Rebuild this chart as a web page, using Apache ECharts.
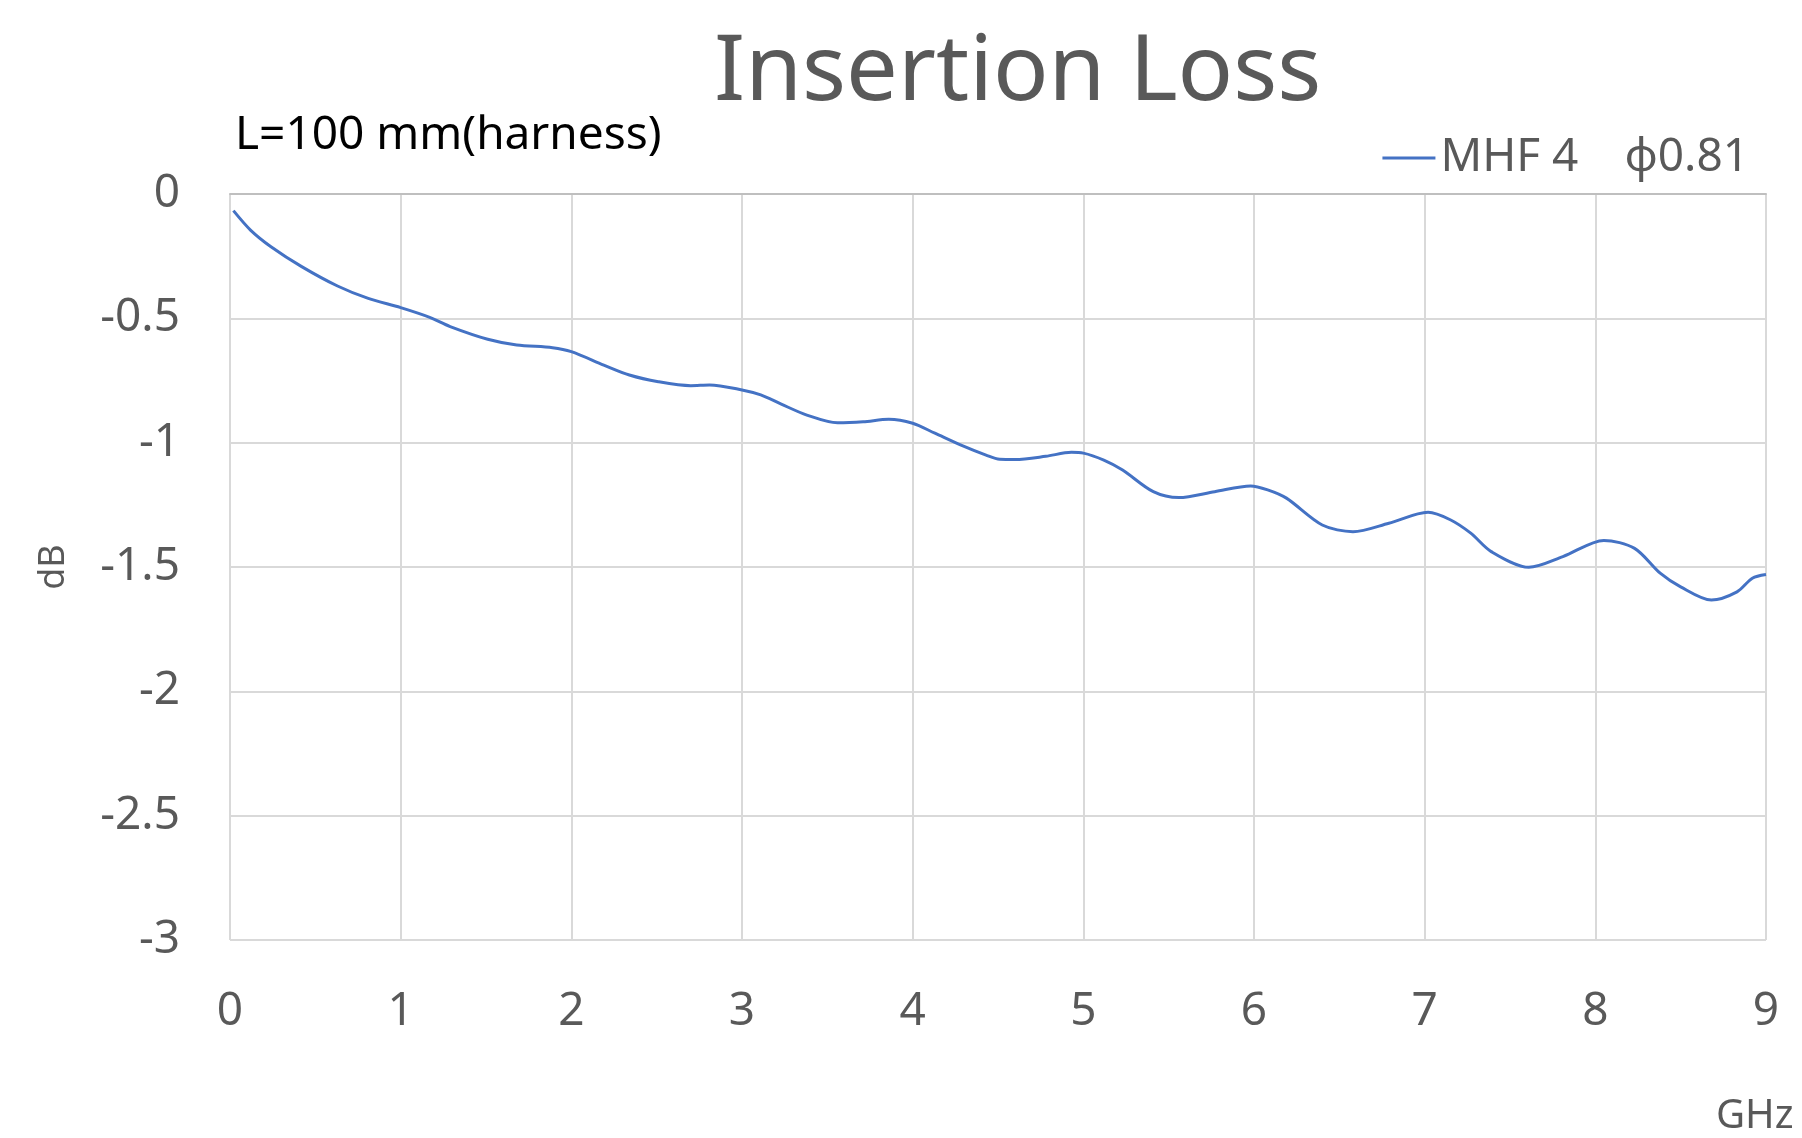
<!DOCTYPE html>
<html>
<head>
    <meta charset="utf-8">
    <title>Insertion Loss</title>
    <script src="https://cdn.jsdelivr.net/npm/echarts@6/dist/echarts.min.js"></script>
    <style>
        html, body { margin: 0; padding: 0; background: #fff; }
    </style>
</head>
<body>
    <div id="main" style="width: 1802px;height:1138px;"></div>
    <script type="text/javascript">
    var myChart = echarts.init(document.getElementById('main'));
    // Data
    var freq = [0.02,0.12,0.24,0.42,0.63,0.81,1.0,1.17,1.29,1.51,1.68,1.89,2.0,2.19,2.34,2.51,2.7,2.81,
                3.0,3.11,3.23,3.38,3.56,3.71,3.86,4.0,4.13,4.28,4.43,4.51,4.6,4.78,4.93,5.0,5.12,5.23,
                5.41,5.56,5.77,5.98,6.08,6.19,6.4,6.58,6.79,7.02,7.15,7.27,7.39,7.61,7.81,8.05,8.23,
                8.38,8.5,8.68,8.83,8.92,9.0];
    var loss = [-0.067,-0.145,-0.212,-0.292,-0.37,-0.42,-0.457,-0.496,-0.533,-0.584,-0.607,-0.618,-0.634,
                -0.688,-0.728,-0.755,-0.771,-0.768,-0.788,-0.808,-0.845,-0.889,-0.92,-0.916,-0.906,-0.922,
                -0.962,-1.009,-1.05,-1.067,-1.068,-1.055,-1.039,-1.042,-1.07,-1.11,-1.197,-1.221,-1.197,
                -1.174,-1.19,-1.223,-1.331,-1.358,-1.324,-1.28,-1.31,-1.364,-1.438,-1.501,-1.458,-1.393,
                -1.425,-1.525,-1.58,-1.633,-1.60,-1.545,-1.53];
    var seriesName = 'MHF 4\u3000φ0.81';

    var points = freq.map(function (f, i) { return [f, loss[i]]; });

    var grey = '#595959';
    var font = 'Noto Sans';

    var option = {
      backgroundColor: '#fff',
      animation: false,
      title: [{
        text: 'Insertion Loss',
        left: 709,
        top: 23,
        textStyle: { color: grey, fontSize: 92, fontWeight: 'normal', fontFamily: font }
      }, {
        text: 'L=100 mm(harness)',
        left: 230,
        top: 108,
        textStyle: { color: '#000', fontSize: 46, fontWeight: 'normal', fontFamily: font }
      }, {
        text: 'GHz',
        left: 1711,
        top: 1092,
        textStyle: { color: grey, fontSize: 40, fontWeight: 'normal', fontFamily: font }
      }],
      legend: {
        right: 48,
        top: 130,
        icon: 'rect',
        itemWidth: 53,
        itemHeight: 3,
        itemGap: 5,
        data: [seriesName],
        textStyle: { color: grey, fontSize: 46, fontFamily: font }
      },
      grid: {
        left: 230,
        right: 36,
        top: 194,
        bottom: 198
      },
      xAxis: [{
        type: 'value',
        min: 0,
        max: 9,
        interval: 1,
        axisLine: { show: false },
        axisTick: { show: false },
        axisLabel: { color: grey, fontSize: 46, fontFamily: font, margin: 49 },
        splitLine: { show: true, lineStyle: { color: '#d9d9d9', width: 2 } }
      }, {
        type: 'value',
        position: 'top',
        min: 0,
        max: 9,
        axisLine: { show: true, lineStyle: { color: '#bfbfbf', width: 2 } },
        axisTick: { show: false },
        axisLabel: { show: false },
        splitLine: { show: false }
      }],
      yAxis: {
        type: 'value',
        min: -3,
        max: 0,
        interval: 0.5,
        name: 'dB',
        nameLocation: 'middle',
        nameGap: 158,
        nameTextStyle: { color: grey, fontSize: 36, fontFamily: font },
        axisLine: { show: false },
        axisTick: { show: false },
        axisLabel: { color: grey, fontSize: 46, fontFamily: font, margin: 50 },
        splitLine: { show: true, lineStyle: { color: '#d9d9d9', width: 2 } }
      },
      series: [{
        name: seriesName,
        type: 'line',
        xAxisIndex: 0,
        symbol: 'none',
        smooth: 0.3,
        lineStyle: { color: '#4472c4', width: 3 },
        itemStyle: { color: '#4472c4' },
        data: points
      }]
    };

    myChart.setOption(option);
    </script>
</body>
</html>
